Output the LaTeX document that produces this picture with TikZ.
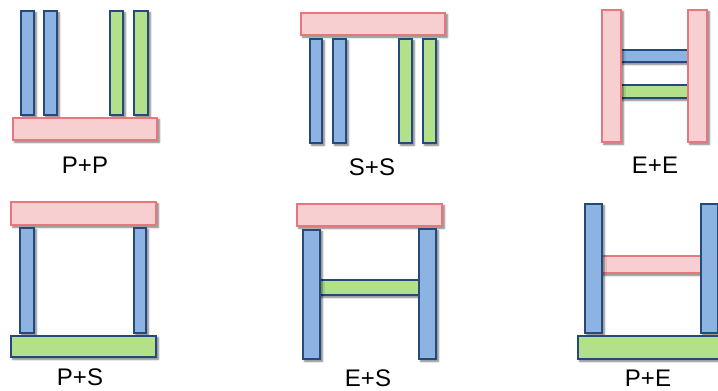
\documentclass[tikz,border=0pt]{standalone}
\usepackage{fontspec}
\setmainfont{Liberation Sans}
\usetikzlibrary{shadows,shadows.blur}
\definecolor{bfill}{HTML}{8DB3E2}
\definecolor{bdraw}{HTML}{234A7A}
\definecolor{gfill}{HTML}{B3E18A}
\definecolor{pfill}{HTML}{F8CFD1}
\definecolor{pdraw}{HTML}{E8777D}
\tikzset{
  slab/.style={inner sep=0pt, outer sep=0pt, line width=1.6pt, anchor=north west,
    blur shadow={shadow xshift=2pt, shadow yshift=-2pt, shadow blur steps=6, shadow opacity=55, shadow blur radius=2pt}},
  blueslab/.style={slab, draw=bdraw, fill=bfill},
  greenslab/.style={slab, draw=bdraw, fill=gfill},
  pinkslab/.style={slab, draw=pdraw, fill=pfill},
  lbl/.style={font=\fontsize{24}{26}\selectfont, inner sep=0pt, text=black}
}
\newcommand\rbox[6]{\node[#1, minimum width={#4-#2-1.6}, minimum height={#5-#3-1.6}] (#6) at (#2+0.8,#3+0.8) {};}
\begin{document}
\begin{tikzpicture}[x=1pt,y=-1pt]
\useasboundingbox (0,0) rectangle (718,391);
\begin{scope}
\clip (0,0) rectangle (718,391);
% Panel 1: P+P
\rbox{blueslab}{20}{10}{35}{116}{pp1}
\rbox{blueslab}{43}{10}{58}{116}{pp2}
\rbox{greenslab}{109}{10}{124}{116}{pp3}
\rbox{greenslab}{133}{10}{149}{116}{pp4}
\rbox{pinkslab}{12}{117}{158}{141}{ppbase}
\node[lbl] (lpp) at (85,165) {P+P};
% Panel 2: S+S
\rbox{pinkslab}{300}{12}{446}{36}{sstop}
\rbox{blueslab}{309}{38}{323}{144}{ss1}
\rbox{blueslab}{332}{38}{347}{144}{ss2}
\rbox{greenslab}{398}{38}{413}{144}{ss3}
\rbox{greenslab}{422}{38}{437}{144}{ss4}
\node[lbl] (lss) at (372,167) {S+S};
% Panel 3: E+E
\rbox{blueslab}{616}{49}{692}{63}{eeb}
\rbox{greenslab}{616}{84}{692}{99}{eeg}
\rbox{pinkslab}{601}{9}{622}{143}{eel}
\rbox{pinkslab}{687}{9}{708}{143}{eer}
\node[lbl] (lee) at (655,165) {E+E};
% Panel 4: P+S
\rbox{pinkslab}{10}{201}{157}{226}{pstop}
\rbox{blueslab}{19}{227}{35}{334}{ps1}
\rbox{blueslab}{133}{227}{147}{334}{ps2}
\rbox{greenslab}{10}{335}{157}{358}{psbase}
\node[lbl] (lps) at (80,377) {P+S};
% Panel 5: E+S
\rbox{greenslab}{316}{279}{423}{296}{esg}
\rbox{pinkslab}{296}{203}{443}{227}{estop}
\rbox{blueslab}{302}{229}{321}{360}{es1}
\rbox{blueslab}{418}{228}{437}{360}{es2}
\node[lbl] (les) at (368,378) {E+S};
% Panel 6: P+E
\rbox{pinkslab}{598}{255}{704}{274}{pep}
\rbox{blueslab}{584}{203}{603}{334}{pe1}
\rbox{blueslab}{700}{203}{719}{334}{pe2}
\rbox{greenslab}{577}{335}{740}{360}{pebase}
\node[lbl] (lpe) at (648,378) {P+E};
\end{scope}
\end{tikzpicture}
\end{document}
